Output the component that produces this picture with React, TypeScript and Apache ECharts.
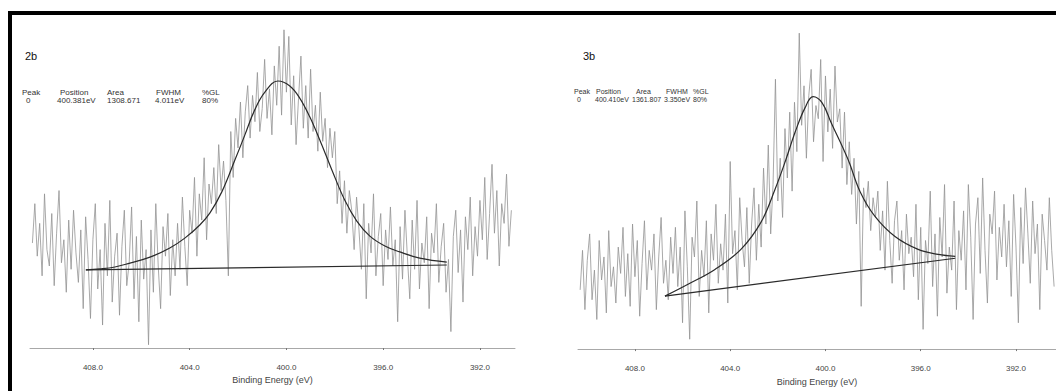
import { useEffect, useRef } from "react";
import * as echarts from "echarts";

// ---------- data ----------
const tickValues = [408, 404, 400, 396, 392];
const stepEV = 0.1;

// panel 2b : raw spectrum, energies from 410.5 eV downwards in 0.1 eV steps
const leftStartEV = 410.5;
const leftCounts = [
  32, 44, 28, 38, 22, 47, 30, 25, 41, 19, 35, 48, 26, 33, 17, 39, 24, 42, 29, 20,
  36, 12, 40, 27, 9, 33, 44, 18, 30, 7, 38, 22, 45, 14, 28, 35, 10, 31, 42, 19,
  26, 43, 15, 34, 8, 39, 21, 30, 1, 36, 17, 44, 25, 12, 37, 28, 41, 16, 33, 22,
  38, 24, 46, 31, 19, 42, 35, 52, 28, 47, 39, 58, 33, 50, 44,
  55, 41, 62, 48, 57, 45, 22, 66, 52, 70,
  61, 75, 58, 72, 80, 64, 77, 69, 84, 66, 73, 88, 70, 79, 65, 86, 74, 92, 71, 97,
  78, 95, 68, 83, 62, 76, 89, 67, 80, 64,
  85, 66, 74, 60, 78, 63, 70, 55, 67, 58,
  66, 44, 54, 38, 51, 35, 48, 42, 30, 46,
  36, 24, 44, 15, 38, 29, 47, 22, 34, 41, 19, 36, 27, 43, 25,
  33, 8, 37, 21, 42, 28, 15, 39, 24, 45, 18, 32, 26, 40, 12, 35, 29, 44, 20, 31,
  38, 17, 27, 5, 34, 42, 23, 36, 14, 40, 30, 46, 22, 37, 28,
  45, 33, 52, 27, 41, 56, 35, 48, 25, 44, 38, 53, 31, 42,
];
// panel 2b : fitted peak
const leftFitEV = [
  408.29, 407.71, 407.09, 406.47, 405.64, 404.82, 404.2, 403.58, 403.16, 402.67,
  402.13, 401.72, 401.31, 400.89, 400.35, 399.86, 399.45, 399.03, 398.62, 398.12,
  397.59, 397.09, 396.55, 395.93, 395.31, 394.49, 393.37,
];
const leftFitVal = [
  23.8, 24.1, 24.7, 25.9, 27.7, 30.5, 33.5, 37.5, 41.2, 47.6,
  57.3, 64.9, 72.6, 78.0, 81.4, 79.9, 76.2, 70.4, 63.4, 54.3,
  45.1, 38.7, 34.1, 31.1, 29.3, 27.4, 26.2,
];
const leftBaseEV = [408.29, 393.37];
const leftBaseVal = [23.8, 25.3];

// panel 3b : raw spectrum, energies from 410.3 eV downwards in 0.1 eV steps
const rightStartEV = 410.3;
const rightCounts = [
  18, 30, 12, 27, 35, 15, 24, 9, 33, 21, 28, 11, 36, 19, 25, 14, 31, 23, 37, 16,
  29, 13, 38, 22, 33, 10, 26, 39, 18, 30, 24, 35, 12, 28, 40, 20, 27, 15, 34, 23,
  37, 19, 31, 8, 42, 25, 3, 34, 28, 45, 16, 30, 22, 39, 11, 35, 27, 44, 20, 32,
  24, 41, 14, 57, 29, 36, 18, 46, 33, 25, 43, 20, 38, 49, 27,
  44, 31, 55, 38, 62, 35, 50, 82, 45, 58, 40, 67, 52, 72, 48,
  75, 60, 96, 68, 80, 58, 77, 85, 63, 74, 70, 88, 57, 83, 66, 79, 61, 86, 69, 73,
  55, 72, 50, 63, 47, 58, 38, 54, 13, 49, 43, 51, 36, 46, 40,
  48, 30, 42, 24, 51, 33, 20, 39, 45, 27, 36, 18, 41, 29, 34,
  22, 44, 15, 37, 6, 33, 26, 48, 19, 35, 10, 40, 28, 50, 17, 31, 24, 45, 12, 36,
  27, 42, 18, 50, 34, 9, 38, 46, 23, 52, 30, 14, 41, 35, 48, 21, 37, 28, 44, 25,
  39, 16, 47, 31, 8, 43, 26, 49, 35, 20, 45, 29, 38, 12, 41, 33, 24, 46, 30, 19,
];
// panel 3b : fitted peak
const rightFitEV = [
  406.74, 405.77, 404.64, 403.55, 402.71, 402.12, 401.66, 401.28, 400.86, 400.52,
  400.14, 399.76, 399.05, 398.55, 397.92, 397.08, 396.11, 395.27, 394.55,
];
const rightFitVal = [
  16.1, 19.7, 24.2, 30.3, 38.5, 48.5, 57.6, 65.8, 73.3, 76.7,
  74.8, 68.8, 57.6, 47.9, 40.3, 34.2, 30.3, 28.8, 28.2,
];
const rightBaseEV = [406.74, 394.55];
const rightBaseVal = [16.1, 27.6];

const tableHeads = ["Peak", "Position", "Area", "FWHM", "%GL"];
const leftRow = ["0", "400.381eV", "1308.671", "4.011eV", "80%"];
const rightRow = ["0", "400.410eV", "1361.807", "3.350eV", "80%"];

// ---------- helpers ----------
const pairs = (xs: number[], ys: number[]) => xs.map((x, i) => [x, ys[i]]);
const sampled = (start: number, ys: number[]) =>
  ys.map((y, i) => [+(start - i * stepEV).toFixed(2), y]);

const FONT = "'Liberation Sans', Arial, sans-serif";

function xAxisFor(gridIndex: number, min: number, max: number) {
  return {
    type: "value",
    gridIndex,
    inverse: true,
    min,
    max,
    splitLine: { show: false },
    axisLine: { show: true, lineStyle: { color: "#a8a8a8", width: 1 } },
    axisTick: {
      show: true,
      customValues: tickValues,
      length: 2,
      lineStyle: { color: "#777" },
    },
    axisLabel: {
      customValues: tickValues,
      formatter: (v: number) => v.toFixed(1),
      fontSize: 8,
      color: "#444",
      fontFamily: FONT,
      margin: 15,
    },
    name: "Binding Energy (eV)",
    nameLocation: "middle",
    nameGap: 27,
    nameTextStyle: { fontSize: 9, color: "#444", fontFamily: FONT },
  };
}

function tableGraphics(
  x0: number,
  headXs: number[],
  rowXs: number[],
  row: string[],
  label: string,
  labelX: number,
  fontPx: number
) {
  const items: any[] = [
    {
      type: "text",
      left: x0 + labelX,
      top: 50,
      style: { text: label, fill: "#111", font: `11px ${FONT}` },
    },
  ];
  tableHeads.forEach((h, i) => {
    items.push({
      type: "text",
      left: x0 + headXs[i],
      top: 88,
      style: { text: h, fill: "#333", font: `${fontPx}px ${FONT}` },
    });
    items.push({
      type: "text",
      left: x0 + rowXs[i],
      top: 96,
      style: { text: row[i], fill: "#333", font: `${fontPx}px ${FONT}` },
    });
  });
  return items;
}

export default function App() {
  const ref = useRef<HTMLDivElement>(null);

  useEffect(() => {
    if (!ref.current) return;
    const chart = echarts.init(ref.current, null, { renderer: "svg" });

    const spectrumStyle = { color: "#939393", width: 0.8 };
    const fitStyle = { color: "#2a2a2a", width: 1.2 };

    chart.setOption({
      animation: false,
      backgroundColor: "#ffffff",
      grid: [
        { left: 30, width: 485, top: 20, bottom: 43 },
        { left: 578, width: 478, top: 20, bottom: 41 },
      ],
      xAxis: [xAxisFor(0, 390.55, 410.6), xAxisFor(1, 390.32, 410.39)],
      yAxis: [
        { type: "value", gridIndex: 0, min: 0, max: 100, show: false },
        { type: "value", gridIndex: 1, min: 0, max: 100, show: false },
      ],
      series: [
        {
          type: "line",
          xAxisIndex: 0,
          yAxisIndex: 0,
          data: sampled(leftStartEV, leftCounts),
          symbol: "none",
          lineStyle: spectrumStyle,
          z: 1,
        },
        {
          type: "line",
          xAxisIndex: 0,
          yAxisIndex: 0,
          data: pairs(leftFitEV, leftFitVal),
          symbol: "none",
          smooth: 0.4,
          lineStyle: fitStyle,
          z: 3,
        },
        {
          type: "line",
          xAxisIndex: 0,
          yAxisIndex: 0,
          data: pairs(leftBaseEV, leftBaseVal),
          symbol: "none",
          lineStyle: fitStyle,
          z: 3,
        },
        {
          type: "line",
          xAxisIndex: 1,
          yAxisIndex: 1,
          data: sampled(rightStartEV, rightCounts),
          symbol: "none",
          lineStyle: spectrumStyle,
          z: 1,
        },
        {
          type: "line",
          xAxisIndex: 1,
          yAxisIndex: 1,
          data: pairs(rightFitEV, rightFitVal),
          symbol: "none",
          smooth: 0.4,
          lineStyle: fitStyle,
          z: 3,
        },
        {
          type: "line",
          xAxisIndex: 1,
          yAxisIndex: 1,
          data: pairs(rightBaseEV, rightBaseVal),
          symbol: "none",
          lineStyle: fitStyle,
          z: 3,
        },
      ],
      graphic: [
        { type: "rect", shape: { x: 8, y: 11, width: 1048, height: 4 }, style: { fill: "#000" }, z: 10 },
        { type: "rect", shape: { x: 8, y: 11, width: 4, height: 380 }, style: { fill: "#000" }, z: 10 },
        ...tableGraphics(0, [22, 60, 107, 156, 202], [26, 57, 107, 155, 202], leftRow, "2b", 25, 8),
        ...tableGraphics(528, [46, 68, 108, 138, 165], [49, 67, 104, 136, 165], rightRow, "3b", 55, 7),
      ],
    });

    return () => chart.dispose();
  }, []);

  return (
    <div
      ref={ref}
      style={{ position: "fixed", left: 0, top: 0, width: 1056, height: 391, background: "#fff" }}
    />
  );
}
